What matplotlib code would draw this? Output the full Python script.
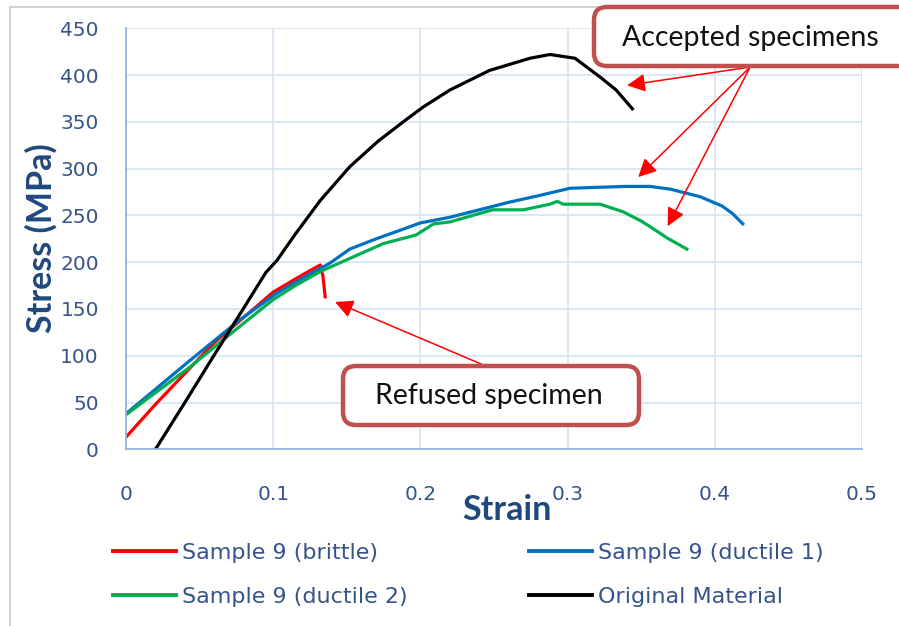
import matplotlib.pyplot as plt
from matplotlib.patches import FancyBboxPatch, Rectangle
import numpy as np

# stress-strain curves
red_x = [0, 0.02, 0.0435, 0.06, 0.08, 0.1, 0.115, 0.125, 0.132, 0.1338, 0.1353]
red_y = [13, 48, 87, 114, 141, 168, 182, 191, 197, 185, 163]

blue_x = [0, 0.0435, 0.077, 0.1026, 0.12, 0.1386, 0.152, 0.17, 0.186, 0.2, 0.22,
          0.24, 0.26, 0.28, 0.3016, 0.32, 0.34, 0.356, 0.37, 0.39, 0.405, 0.412, 0.419]
blue_y = [38, 95, 138, 167, 183, 199, 214, 225, 234, 242, 248,
          256, 264, 271, 279, 280, 281, 281, 278, 270, 260, 252, 241]

green_x = [0, 0.0435, 0.077, 0.1, 0.115, 0.132, 0.152, 0.175, 0.197, 0.209, 0.22,
           0.249, 0.27, 0.288, 0.293, 0.297, 0.322, 0.3375, 0.35, 0.356, 0.3675, 0.381]
green_y = [37, 88, 131, 160, 175, 190, 204, 220, 229, 241, 243,
           256, 256, 262, 265, 262, 262, 254, 244, 238, 226, 214]

black_x = [0.02, 0.04, 0.06, 0.08, 0.095, 0.1026, 0.115, 0.132, 0.152, 0.171, 0.19,
           0.202, 0.22, 0.247, 0.2745, 0.288, 0.305, 0.322, 0.333, 0.344]
black_y = [0, 50, 101, 151, 189, 202, 230, 266, 302, 329, 352,
           366, 384, 405, 418, 422, 418, 398, 384, 364]

labels = ["Sample 9 (brittle)", "Sample 9 (ductile 2)", "Sample 9 (ductile 1)", "Original Material"]
x_ticks = [0, 0.1, 0.2, 0.3, 0.4, 0.5]
x_ticklabels = ["0", "0.1", "0.2", "0.3", "0.4", "0.5"]
y_ticks = np.arange(0, 451, 50)

W, H = 899, 626
fig = plt.figure(figsize=(W / 100, H / 100), dpi=100)

# chart area border (light grey, runs off the right/bottom)
fig.add_artist(Rectangle((10 / W, -0.1), 1.2, (H - 7) / H + 0.1, transform=fig.transFigure,
                         fill=False, edgecolor="#c8c8c8", linewidth=1.2))

ax = fig.add_axes([126 / W, (H - 449.3) / H, (862 - 126) / W, (449.3 - 28.3) / H])
ax.set_xlim(0, 0.5)
ax.set_ylim(0, 450)

lw = 2.3
l1, = ax.plot(red_x, red_y, color="#ff0000", lw=lw)
l3, = ax.plot(blue_x, blue_y, color="#0070c0", lw=lw)
l2, = ax.plot(green_x, green_y, color="#00b050", lw=lw)
l4, = ax.plot(black_x, black_y, color="black", lw=lw)

grid_c = "#d6e3f5"
ax.set_xticks(x_ticks)
ax.set_xticklabels(x_ticklabels)
ax.set_yticks(y_ticks)
ax.grid(True, color=grid_c, lw=1.2)
ax.set_axisbelow(True)
for s in ["top", "right"]:
    ax.spines[s].set_visible(False)
for s in ["left", "bottom"]:
    ax.spines[s].set_color("#95b3de")
    ax.spines[s].set_linewidth(1.3)
tick_c = "#35548a"
ax.tick_params(axis="x", length=0, pad=25.5, labelsize=14.5, labelcolor=tick_c)
ax.tick_params(axis="y", length=0, pad=19.5, labelsize=14.5, labelcolor=tick_c)

lab_c = "#1f497d"
fig.text(41 / W, 1 - 238 / H, "Stress (MPa)", rotation=90, ha="center", va="center",
         fontsize=24.5, fontweight="bold", color=lab_c, family="Lato")
fig.text(507 / W, 1 - 510 / H, "Strain", ha="center", va="center",
         fontsize=24.5, fontweight="bold", color=lab_c, family="Lato")

leg = fig.legend([l1, l2, l3, l4], labels, ncol=2, loc="upper left",
                 bbox_to_anchor=(104 / W, 1 - 534 / H), frameon=False,
                 borderaxespad=0, handlelength=2.84, handletextpad=0.27,
                 columnspacing=5.45, labelspacing=1.08, fontsize=16)
for t in leg.get_texts():
    t.set_color(tick_c)
for h in leg.legend_handles:
    h.set_linewidth(2.8)

# annotation boxes (pixel positions converted to inches)
box_c = "#c0504d"
def callout(x0, y0, x1, y1, text, cx, cy):
    p = FancyBboxPatch((x0 / 100, (H - y1) / 100), (x1 - x0) / 100, (y1 - y0) / 100,
                       boxstyle="round,pad=0,rounding_size=0.13",
                       transform=fig.dpi_scale_trans, facecolor="white",
                       edgecolor=box_c, linewidth=3.2, zorder=5)
    fig.add_artist(p)
    fig.text(cx / W, 1 - cy / H, text, ha="center", va="center", fontsize=20.5,
             family="Lato", color="#111111", zorder=6)

arrow = dict(arrowstyle="-|>,head_length=1.1,head_width=0.55", color="#ff0000", lw=1.1,
             shrinkA=0, shrinkB=0)
# arrows for accepted specimens
for tx, ty in [(0.3404, 389), (0.348, 291), (0.368, 238.5)]:
    ax.annotate("", xy=(tx, ty), xytext=(0.424, 408.6), arrowprops=arrow,
                annotation_clip=False, zorder=4)
# arrow for refused specimen
ax.annotate("", xy=(0.142, 157.5), xytext=(0.246, 88), arrowprops=arrow,
            annotation_clip=False, zorder=4)

callout(594, 7, 915, 66, "Accepted specimens", 750, 38)
callout(343, 366, 639, 425, "Refused specimen", 489, 396)

fig.savefig("out.png", dpi=100)
